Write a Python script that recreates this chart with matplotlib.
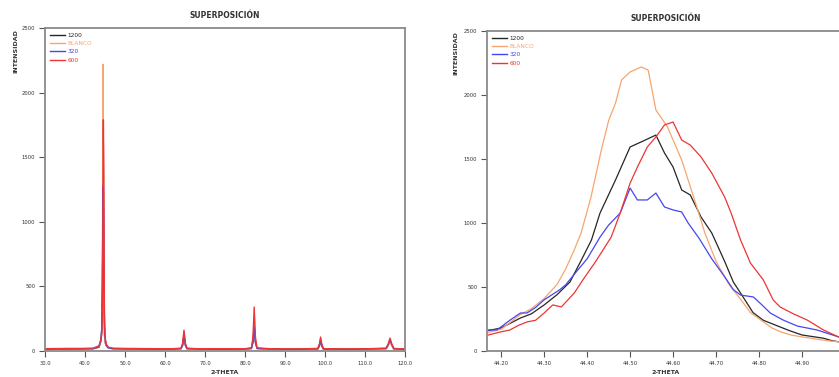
#Superposicion de difractogramas (vista completa y zoom del pico principal)
import numpy as np
import matplotlib
import matplotlib.pyplot as plt

matplotlib.rc('font', family='DejaVu Sans')

#Nombres de las muestras y colores.
labels = ['1200', 'BLANCO', '320', '600']
colors = ['#262626', '#f6a56e', '#4646f0', '#ee3434']

#Zoom del pico principal (2-theta, intensidad).
z_1200_x = [44.17, 44.20, 44.245, 44.27, 44.30, 44.33, 44.36, 44.385, 44.41, 44.43,
            44.466, 44.50, 44.53, 44.56, 44.58, 44.60, 44.62, 44.64, 44.665, 44.69,
            44.72, 44.74, 44.76, 44.786, 44.81, 44.84, 44.87, 44.90, 44.93, 44.95,
            44.97, 44.99]
z_1200_y = [160, 180, 258, 290, 360, 440, 539, 700, 867, 1078,
            1336, 1594, 1640, 1687, 1547, 1437, 1258, 1219, 1047, 922,
            700, 540, 437, 300, 240, 200, 160, 125, 110, 100,
            80, 70]

z_blanco_x = [44.17, 44.20, 44.245, 44.27, 44.30, 44.33, 44.35, 44.37, 44.386, 44.409,
              44.433, 44.45, 44.466, 44.48, 44.50, 44.526, 44.542, 44.56, 44.587, 44.62,
              44.65, 44.674, 44.70, 44.73, 44.758, 44.78, 44.805, 44.83, 44.85, 44.874,
              44.90, 44.93, 44.96, 44.99]
z_blanco_y = [145, 170, 285, 330, 410, 520, 640, 790, 922, 1203,
              1570, 1800, 1937, 2117, 2180, 2219, 2195, 1883, 1750, 1492,
              1180, 922, 700, 520, 400, 300, 240, 180, 150, 125,
              110, 95, 80, 70]

z_320_x = [44.17, 44.19, 44.22, 44.245, 44.26, 44.28, 44.30, 44.336, 44.35, 44.38,
           44.40, 44.43, 44.45, 44.466, 44.477, 44.50, 44.517, 44.54, 44.56, 44.58,
           44.60, 44.62, 44.635, 44.66, 44.69, 44.72, 44.74, 44.757, 44.787, 44.81,
           44.826, 44.856, 44.889, 44.935, 44.985]
z_320_y = [164, 164, 240, 297, 297, 340, 400, 478, 517, 640,
           720, 890, 984, 1039, 1078, 1273, 1180, 1180, 1234, 1125,
           1102, 1086, 1000, 883, 720, 580, 480, 437, 422, 350,
           297, 242, 195, 164, 110]

z_600_x = [44.17, 44.20, 44.22, 44.24, 44.26, 44.28, 44.30, 44.32, 44.34, 44.37,
           44.39, 44.42, 44.456, 44.477, 44.50, 44.517, 44.54, 44.56, 44.58, 44.60,
           44.62, 44.64, 44.665, 44.69, 44.72, 44.735, 44.757, 44.78, 44.81, 44.833,
           44.849, 44.88, 44.912, 44.95, 44.985]
z_600_y = [125, 150, 164, 200, 227, 240, 297, 360, 344, 453,
           555, 700, 890, 1078, 1312, 1437, 1594, 1672, 1766, 1789,
           1648, 1609, 1516, 1390, 1203, 1078, 867, 687, 555, 398,
           344, 290, 242, 164, 110]

#Barrido completo fuera del pico principal.
s_lo_x = [30, 33, 36, 39, 42, 43.5, 44.0]
s_hi_x = [45.3, 45.8, 47, 50, 54, 58, 62, 64.0, 64.4, 64.75, 65.1, 65.5, 68, 72, 76, 80,
          81.6, 82.0, 82.3, 82.6, 83.0, 86, 90, 94, 98.2, 98.6, 98.9, 99.2, 99.6, 103,
          107, 111, 115.3, 115.8, 116.25, 116.7, 117.2, 120]
s_lo_y = {
    '1200':   [14, 15, 16, 16, 18, 30, 80],
    'BLANCO': [12, 13, 14, 15, 17, 28, 75],
    '320':    [14, 15, 15, 16, 18, 32, 85],
    '600':    [18, 19, 20, 20, 22, 40, 95],
}
s_hi_y = {
    '1200':   [45, 25, 18, 16, 15, 14, 14, 18, 45, 120, 45, 18, 14, 13, 13, 14,
               20, 70, 190, 70, 20, 14, 13, 13, 16, 40, 80, 40, 15, 13,
               13, 14, 18, 45, 80, 45, 16, 12],
    'BLANCO': [40, 22, 16, 14, 13, 12, 12, 16, 45, 140, 45, 16, 12, 12, 12, 12,
               18, 80, 240, 80, 18, 12, 12, 12, 14, 40, 90, 40, 14, 12,
               12, 12, 16, 40, 75, 40, 14, 11],
    '320':    [45, 25, 18, 16, 15, 14, 15, 18, 45, 124, 45, 18, 15, 14, 14, 15,
               20, 70, 186, 70, 20, 15, 14, 14, 16, 40, 85, 40, 15, 14,
               14, 15, 20, 50, 85, 50, 17, 13],
    '600':    [55, 30, 22, 20, 19, 18, 18, 22, 60, 162, 60, 22, 18, 18, 18, 18,
               25, 110, 340, 110, 25, 18, 17, 17, 20, 55, 108, 55, 18, 17,
               17, 18, 22, 55, 100, 55, 20, 16],
}

zoom_x = [z_1200_x, z_blanco_x, z_320_x, z_600_x]
zoom_y = [z_1200_y, z_blanco_y, z_320_y, z_600_y]

W, H = 839, 377
fig = plt.figure(figsize=(W / 100, H / 100), dpi=100)
ax1 = fig.add_axes([45 / W, 26 / H, 360 / W, 323 / H])
ax2 = fig.add_axes([487 / W, 26 / H, 358 / W, 320 / H])


def style(ax):
    for s in ax.spines.values():
        s.set_color('#8a8a8a')
        s.set_linewidth(1.3)
    ax.tick_params(direction='out', length=4, width=0.8, color='#555555',
                   labelsize=3.8, labelcolor='#333333', pad=3)
    ax.set_ylim(0, 2500)
    ax.set_yticks([0, 500, 1000, 1500, 2000, 2500])
    ax.set_title('SUPERPOSICIÓN', fontsize=5.5, fontweight='bold', color='#333333', pad=7)
    ax.set_xlabel('2-THETA', fontsize=4.5, fontweight='bold', color='#333333', labelpad=3)
    ax.set_ylabel('INTENSIDAD', fontsize=4.5, fontweight='bold', color='#333333')
    leg = ax.legend(loc='upper left', frameon=False, fontsize=4.2, handlelength=2.6,
                    labelspacing=0.55, borderaxespad=0.4, handletextpad=0.4,
                    labelcolor='linecolor')
    for line in leg.get_lines():
        line.set_linewidth(1.0)


#Vista completa.
for i, lab in enumerate(labels):
    x = s_lo_x + zoom_x[i] + s_hi_x
    y = s_lo_y[lab] + zoom_y[i] + s_hi_y[lab]
    ax1.plot(x, y, color=colors[i], lw=1.0, label=lab)
ax1.set_xlim(30, 120)
ax1.set_xticks(np.arange(30, 121, 10))
ax1.set_xticklabels(['%.1f' % v for v in np.arange(30, 121, 10)])
style(ax1)
ax1.yaxis.set_label_coords(-0.075, 0.93)

#Zoom del pico principal (la etiqueta 45.00 queda fuera del borde).
for i, lab in enumerate(labels):
    ax2.plot(zoom_x[i], zoom_y[i], color=colors[i], lw=0.9, label=lab)
ax2.set_xlim(44.167, 45.0)
ticks2 = [44.2, 44.3, 44.4, 44.5, 44.6, 44.7, 44.8, 44.9]
ax2.set_xticks(ticks2)
ax2.set_xticklabels(['%.2f' % v for v in ticks2])
style(ax2)
ax2.yaxis.set_label_coords(-0.08, 0.93)

plt.savefig('out.png', dpi=100)
